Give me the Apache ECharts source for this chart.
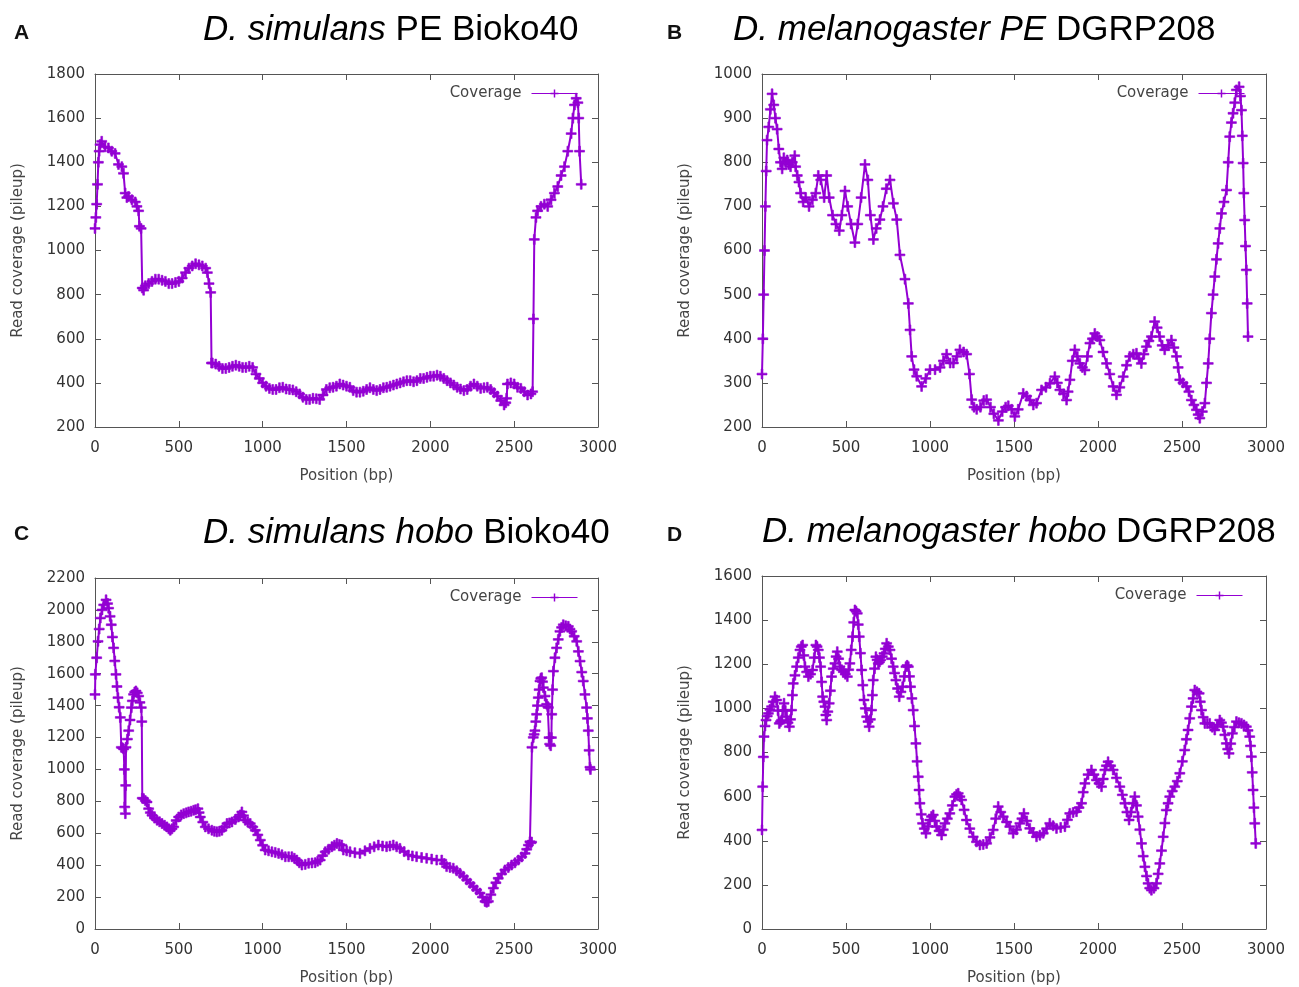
<!DOCTYPE html>
<html>
<head>
<meta charset="utf-8">
<script src="https://cdn.jsdelivr.net/npm/echarts@6/dist/echarts.min.js"></script>
<style>
html,body{margin:0;padding:0;background:#fff;}
#chart{width:1299px;height:987px;}
</style>
</head>
<body>
<div id="chart"></div>
<script>
// ---- Data (position in bp, read coverage) ----
const covA = [[0,1100],[5,1150],[10,1210],[15,1300],[20,1400],[25,1450],[30,1480],[40,1495],[60,1470],[80,1465],[100,1450],[120,1440],[140,1390],[160,1380],[170,1350],[180,1260],[190,1240],[200,1245],[220,1230],[240,1220],[250,1200],[260,1180],[265,1110],[275,1100],[282,830],[290,820],[300,840],[320,850],[340,860],[360,870],[380,870],[400,865],[420,860],[440,850],[460,850],[480,855],[500,860],[520,875],[540,900],[560,920],[580,930],[600,940],[620,935],[640,930],[660,920],[670,900],[680,850],[690,810],[695,490],[700,490],[720,485],[740,475],[760,465],[780,465],[800,470],[820,475],[840,480],[860,475],[880,470],[900,470],[920,475],[940,470],[960,440],[980,420],[1000,400],[1020,385],[1040,375],[1060,370],[1080,370],[1100,378],[1120,380],[1140,372],[1160,370],[1180,368],[1200,360],[1220,350],[1240,335],[1260,325],[1280,325],[1300,330],[1320,328],[1340,325],[1360,345],[1380,370],[1400,378],[1420,380],[1440,385],[1460,395],[1480,390],[1500,385],[1520,380],[1540,365],[1560,358],[1580,358],[1600,362],[1620,370],[1640,378],[1660,370],[1680,365],[1700,370],[1720,378],[1740,380],[1760,385],[1780,390],[1800,395],[1820,400],[1840,405],[1860,410],[1880,410],[1900,405],[1920,410],[1940,420],[1960,420],[1980,425],[2000,430],[2020,430],[2040,435],[2060,430],[2080,420],[2100,410],[2120,400],[2140,390],[2160,380],[2180,372],[2200,365],[2220,370],[2240,385],[2260,395],[2280,385],[2300,375],[2320,378],[2340,380],[2360,370],[2380,355],[2400,340],[2420,320],[2440,300],[2450,310],[2455,330],[2460,395],[2480,400],[2500,395],[2520,380],[2540,375],[2560,360],[2580,345],[2600,350],[2610,360],[2615,690],[2620,1050],[2630,1150],[2640,1180],[2660,1200],[2680,1210],[2700,1200],[2720,1230],[2740,1260],[2760,1290],[2780,1340],[2800,1380],[2820,1450],[2840,1530],[2850,1600],[2860,1660],[2870,1690],[2880,1670],[2885,1600],[2890,1450],[2900,1300]];

const covB = [[0,320],[5,400],[10,500],[15,600],[20,700],[25,780],[30,850],[40,880],[50,920],[60,955],[70,930],[80,900],[90,875],[100,830],[110,800],[120,785],[130,810],[140,800],[150,805],[160,795],[170,790],[180,800],[195,815],[200,790],[210,770],[220,755],[230,730],[245,710],[260,720],[280,700],[300,715],[320,730],[335,770],[350,760],[370,720],[385,770],[400,720],[420,680],[440,660],[460,645],[475,680],[494,735],[510,700],[530,660],[553,618],[570,660],[590,720],[613,795],[630,760],[645,680],[663,625],[680,650],[702,670],[720,700],[740,740],[762,760],[782,707],[802,670],[821,590],[851,535],[871,480],[881,420],[891,360],[905,330],[921,315],[950,292],[975,310],[1000,330],[1030,330],[1060,335],[1080,350],[1099,365],[1120,345],[1139,345],[1160,360],[1178,375],[1200,370],[1218,365],[1235,320],[1248,262],[1262,245],[1278,240],[1300,245],[1320,260],[1337,262],[1360,245],[1380,230],[1407,215],[1430,235],[1450,245],[1466,248],[1486,240],[1505,224],[1525,240],[1555,276],[1575,270],[1595,261],[1615,250],[1634,254],[1664,284],[1690,290],[1714,299],[1743,314],[1758,300],[1773,284],[1795,275],[1813,261],[1822,280],[1833,307],[1847,350],[1862,375],[1877,360],[1892,344],[1907,335],[1922,329],[1937,360],[1952,390],[1967,400],[1981,412],[1996,405],[2011,397],[2030,370],[2051,344],[2070,320],[2090,292],[2110,273],[2130,290],[2150,314],[2170,340],[2189,360],[2210,365],[2229,367],[2244,355],[2258,344],[2273,365],[2288,382],[2303,395],[2318,405],[2337,439],[2352,425],[2367,405],[2382,385],[2397,375],[2417,385],[2437,397],[2452,380],[2467,360],[2477,335],[2487,307],[2506,300],[2526,292],[2541,280],[2556,261],[2571,250],[2586,239],[2596,228],[2606,220],[2621,235],[2636,254],[2646,300],[2656,344],[2665,400],[2675,458],[2685,500],[2695,541],[2705,580],[2715,616],[2725,650],[2735,684],[2750,710],[2765,737],[2775,800],[2784,858],[2794,890],[2804,911],[2814,935],[2824,964],[2840,971],[2848,950],[2854,918],[2859,860],[2864,798],[2868,730],[2873,669],[2878,610],[2883,556],[2888,480],[2893,405]];

const covC = [[0,1470],[2,1596],[10,1700],[18,1803],[25,1880],[32,1949],[42,2000],[52,2032],[66,2063],[75,2040],[81,2011],[90,1960],[97,1907],[104,1830],[111,1762],[118,1680],[125,1596],[131,1520],[137,1450],[144,1390],[151,1326],[157,1139],[165,1135],[171,1128],[175,1000],[177,765],[181,723],[183,900],[185,1139],[193,1190],[201,1243],[209,1310],[217,1388],[223,1430],[230,1471],[237,1485],[244,1492],[252,1480],[260,1460],[268,1420],[276,1388],[279,1300],[282,820],[290,817],[300,805],[310,796],[320,754],[330,730],[340,713],[355,695],[370,682],[385,672],[400,661],[415,650],[429,640],[440,628],[449,619],[459,628],[469,640],[484,680],[499,702],[514,715],[529,723],[544,728],[558,734],[573,738],[588,744],[600,748],[614,754],[621,730],[628,702],[643,670],[658,640],[677,628],[697,619],[712,612],[727,609],[742,612],[757,619],[772,640],[787,661],[802,665],[817,671],[837,686],[856,702],[866,715],[876,734],[886,710],[896,682],[911,670],[926,661],[941,640],[956,619],[971,590],[986,557],[1000,525],[1015,495],[1035,490],[1055,484],[1075,480],[1095,474],[1115,465],[1135,453],[1155,453],[1174,453],[1189,443],[1204,432],[1219,415],[1234,401],[1254,405],[1274,412],[1294,414],[1313,416],[1328,425],[1343,432],[1358,460],[1373,484],[1393,500],[1413,516],[1428,525],[1443,536],[1458,530],[1472,526],[1481,495],[1501,490],[1521,484],[1550,478],[1580,474],[1610,490],[1640,505],[1665,515],[1690,526],[1715,520],[1739,516],[1759,520],[1779,526],[1799,515],[1819,505],[1844,485],[1869,464],[1893,458],[1918,453],[1948,448],[1978,443],[2008,438],[2038,432],[2068,432],[2083,410],[2097,391],[2117,386],[2137,381],[2157,365],[2177,349],[2197,330],[2217,308],[2237,287],[2256,266],[2276,245],[2296,225],[2311,200],[2326,173],[2336,168],[2346,173],[2361,215],[2376,256],[2391,290],[2405,318],[2425,345],[2445,370],[2465,385],[2485,401],[2505,415],[2525,432],[2545,452],[2565,474],[2575,500],[2585,526],[2594,547],[2600,540],[2604,545],[2606,1139],[2614,1201],[2619,1220],[2624,1243],[2629,1300],[2634,1346],[2639,1400],[2644,1450],[2649,1500],[2654,1554],[2659,1570],[2664,1575],[2669,1550],[2674,1513],[2684,1460],[2694,1409],[2700,1395],[2704,1388],[2708,1200],[2712,1159],[2718,1149],[2722,1200],[2724,1346],[2729,1500],[2734,1616],[2743,1700],[2753,1762],[2763,1815],[2773,1866],[2783,1890],[2793,1907],[2808,1900],[2823,1897],[2833,1880],[2843,1866],[2858,1835],[2873,1803],[2883,1740],[2893,1679],[2903,1610],[2912,1554],[2922,1470],[2932,1388],[2937,1320],[2942,1243],[2947,1120],[2952,1014],[2955,1000]];

const covD = [[0,449],[4,645],[8,780],[12,872],[18,920],[24,947],[31,965],[38,977],[47,995],[57,1008],[67,1030],[77,1053],[87,1038],[95,990],[103,932],[110,940],[117,947],[124,990],[131,1023],[139,990],[147,962],[155,935],[163,917],[170,950],[176,992],[181,1060],[186,1113],[196,1150],[206,1189],[216,1230],[226,1265],[234,1280],[242,1287],[249,1240],[256,1189],[266,1165],[276,1144],[289,1155],[301,1174],[311,1230],[321,1287],[328,1280],[335,1265],[342,1230],[349,1189],[355,1120],[361,1053],[368,1030],[375,1008],[380,970],[385,947],[392,985],[400,1023],[407,1080],[414,1144],[424,1180],[434,1204],[441,1235],[448,1257],[456,1225],[464,1189],[474,1175],[484,1166],[496,1155],[508,1144],[516,1175],[523,1204],[531,1265],[539,1325],[546,1390],[553,1446],[560,1440],[567,1431],[573,1380],[579,1325],[586,1250],[593,1174],[600,1105],[607,1038],[615,1000],[623,962],[631,940],[638,917],[645,950],[652,992],[657,1060],[662,1128],[670,1180],[678,1234],[685,1220],[692,1204],[699,1210],[706,1219],[716,1235],[726,1249],[734,1270],[742,1295],[752,1280],[762,1265],[771,1225],[781,1189],[789,1160],[797,1128],[807,1090],[817,1053],[827,1075],[837,1098],[847,1145],[857,1189],[864,1195],[871,1189],[878,1145],[884,1098],[892,1045],[900,992],[908,920],[916,841],[923,760],[930,690],[935,630],[940,570],[948,520],[956,479],[966,455],[976,434],[988,465],[999,494],[1009,510],[1019,517],[1029,490],[1039,464],[1054,445],[1069,426],[1079,450],[1089,479],[1103,500],[1118,524],[1133,560],[1148,600],[1158,610],[1168,615],[1178,600],[1188,585],[1203,540],[1217,494],[1237,455],[1257,418],[1277,395],[1297,381],[1317,383],[1337,388],[1357,415],[1376,449],[1391,500],[1406,555],[1421,530],[1436,509],[1456,485],[1475,464],[1495,434],[1515,450],[1535,479],[1547,500],[1559,524],[1576,490],[1594,456],[1614,437],[1634,418],[1654,425],[1674,434],[1694,455],[1713,479],[1733,468],[1753,456],[1778,460],[1803,464],[1818,495],[1832,524],[1852,528],[1872,532],[1887,550],[1902,570],[1912,620],[1922,660],[1941,700],[1961,721],[1976,700],[1991,675],[2006,660],[2021,645],[2031,680],[2041,721],[2050,740],[2060,758],[2075,740],[2090,721],[2110,685],[2130,645],[2145,608],[2160,570],[2172,530],[2185,494],[2197,530],[2209,570],[2219,600],[2229,560],[2239,509],[2249,450],[2259,388],[2269,330],[2279,282],[2289,240],[2298,207],[2308,185],[2318,176],[2333,185],[2348,207],[2358,250],[2368,297],[2378,355],[2388,418],[2398,480],[2407,539],[2417,570],[2427,600],[2442,625],[2457,645],[2472,670],[2487,706],[2502,760],[2516,811],[2526,860],[2536,902],[2546,955],[2556,1008],[2566,1045],[2576,1083],[2589,1075],[2602,1068],[2609,1030],[2616,992],[2626,960],[2636,932],[2650,932],[2665,932],[2680,915],[2695,902],[2710,925],[2725,947],[2735,935],[2745,917],[2755,880],[2764,841],[2772,815],[2780,796],[2790,840],[2800,887],[2812,915],[2824,940],[2839,935],[2854,932],[2869,925],[2883,917],[2893,900],[2903,872],[2908,830],[2913,781],[2918,710],[2923,630],[2928,550],[2933,479],[2939,388]];

// axis ranges [min, max, interval]
const xRange = [0, 3000, 500];
const yRangeA = [200, 1800, 200];
const yRangeB = [200, 1000, 100];
const yRangeC = [0, 2200, 200];
const yRangeD = [0, 1600, 200];

const panelLetters = ['A', 'B', 'C', 'D'];
const panelTitles = [
  '{i|D. simulans} PE Bioko40',
  '{i|D. melanogaster PE} DGRP208',
  '{i|D. simulans hobo} Bioko40',
  '{i|D. melanogaster hobo} DGRP208'
];
const seriesName = 'Coverage';
const xName = 'Position (bp)';
const yName = 'Read coverage (pileup)';

// ---- Layout ----
const grids = [
  {left: 95, top: 74, width: 503, height: 353},
  {left: 762, top: 74, width: 504, height: 353},
  {left: 95, top: 578, width: 503, height: 353},
  {left: 762, top: 576, width: 504, height: 353}
];
const titlePos = [[203, 10], [733, 10], [203, 513], [762, 512]];
const letterPos = [[14, 21], [667, 21], [14, 522], [667, 523]];
const legendPos = [[721, 86], [54, 86], [721, 590], [56, 588]];
const yRanges = [yRangeA, yRangeB, yRangeC, yRangeD];
const covs = [covA, covB, covC, covD];

const PURPLE = '#9400D3';
const AXIS = '#555';
const FONT = 'DejaVu Sans';
const plus = 'path://M0,4.1 H10 V5.9 H0 Z M4.1,0 H5.9 V10 H4.1 Z';
const plain = v => String(v);

const xAxes = [], yAxes = [], series = [], titles = [], legends = [];
grids.forEach((g, i) => {
  const yr = yRanges[i];
  const common = () => ({
    axisLine: {show: true, onZero: false, lineStyle: {color: AXIS, width: 1}},
    axisTick: {show: true, inside: true, length: 6, lineStyle: {color: AXIS}},
    splitLine: {show: false}
  });
  xAxes.push(Object.assign(common(), {
    type: 'value', gridIndex: i, position: 'bottom', min: xRange[0], max: xRange[1], interval: xRange[2],
    name: xName, nameLocation: 'middle', nameGap: 42,
    nameTextStyle: {fontFamily: FONT, fontSize: 15, color: '#444'},
    axisLabel: {fontFamily: FONT, fontSize: 15, color: '#333', margin: 14, formatter: plain}
  }));
  xAxes.push(Object.assign(common(), {
    type: 'value', gridIndex: i, position: 'top', min: xRange[0], max: xRange[1], interval: xRange[2],
    axisLabel: {show: false}
  }));
  yAxes.push(Object.assign(common(), {
    type: 'value', gridIndex: i, position: 'left', min: yr[0], max: yr[1], interval: yr[2],
    name: yName, nameLocation: 'middle', nameGap: 69,
    nameTextStyle: {fontFamily: FONT, fontSize: 15, color: '#444'},
    axisLabel: {fontFamily: FONT, fontSize: 15, color: '#333', margin: 10, formatter: plain}
  }));
  yAxes.push(Object.assign(common(), {
    type: 'value', gridIndex: i, position: 'right', min: yr[0], max: yr[1], interval: yr[2],
    axisLabel: {show: false}
  }));
  series.push({
    type: 'line', name: seriesName, xAxisIndex: 2 * i, yAxisIndex: 2 * i,
    data: covs[i], symbol: plus, symbolSize: 10, showSymbol: true, showAllSymbol: true,
    lineStyle: {color: PURPLE, width: 2},
    itemStyle: {color: PURPLE, borderColor: PURPLE, borderWidth: 0.6},
    emphasis: {disabled: true}, animation: false, clip: false
  });
  titles.push({
    text: panelTitles[i], left: titlePos[i][0], top: titlePos[i][1], padding: 0,
    textStyle: {
      fontFamily: 'Liberation Sans', fontSize: 35, fontWeight: 'normal', color: '#000', lineHeight: 40,
      rich: {i: {fontFamily: 'Liberation Sans', fontSize: 35, fontStyle: 'italic', color: '#000', lineHeight: 40}}
    }
  });
  titles.push({
    text: panelLetters[i], left: letterPos[i][0], top: letterPos[i][1], padding: 0,
    textStyle: {fontFamily: 'Liberation Sans', fontSize: 21, fontWeight: 'bold', color: '#111', lineHeight: 24}
  });
  legends.push({
    data: [seriesName], right: legendPos[i][0], top: legendPos[i][1], padding: 0,
    align: 'right', itemWidth: 46, itemHeight: 10, itemGap: 0, selectedMode: false,
    lineStyle: {width: 1, color: PURPLE}, itemStyle: {color: PURPLE, borderWidth: 0},
    textStyle: {fontFamily: FONT, fontSize: 15, color: '#444', padding: [0, 5, 0, 0]}
  });
});

const chart = echarts.init(document.getElementById('chart'), null, {renderer: 'canvas'});
chart.setOption({
  backgroundColor: '#fff',
  animation: false,
  title: titles,
  legend: legends,
  grid: grids,
  xAxis: xAxes,
  yAxis: yAxes,
  series: series
});
</script>
</body>
</html>
